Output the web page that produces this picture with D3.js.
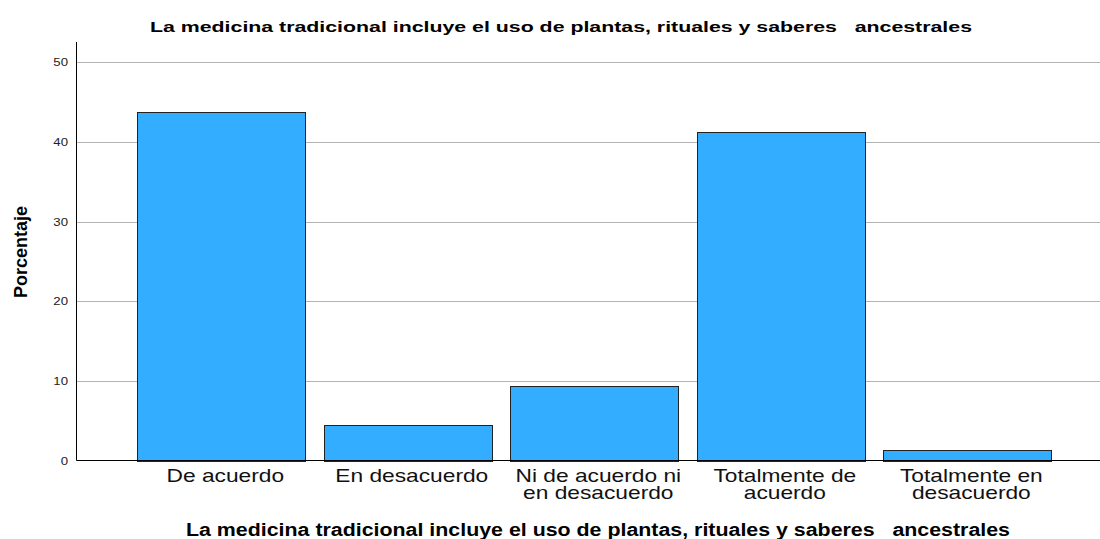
<!doctype html>
<html>
<head>
  <meta charset="utf-8" />
  <script src="https://cdn.jsdelivr.net/npm/d3@7"></script>
  <style>
  body{
    margin: 0;
    background: #fff;
    font-family: "Liberation Sans", Arial, sans-serif;
  }
  .grid line{
    stroke: #b4b4b4;
    stroke-width: 1;
  }
  .bar{
    fill: #33adff;
    stroke: #222;
    stroke-width: 1;
  }
  text{
    white-space: pre;
  }
  </style>
</head>
<body>
  <div id="viz"></div>
  <script>
  // datos
  var categories = ["De acuerdo", "En desacuerdo", "Ni de acuerdo ni en desacuerdo", "Totalmente de acuerdo", "Totalmente en desacuerdo"];
  var categoryLines = [["De acuerdo"], ["En desacuerdo"], ["Ni de acuerdo ni", "en desacuerdo"], ["Totalmente de", "acuerdo"], ["Totalmente en", "desacuerdo"]];
  var percentages = [43.7, 4.4, 9.4, 41.2, 1.3];
  var yTicks = [0, 10, 20, 30, 40, 50];
  var chartTitle = "La medicina tradicional incluye el uso de plantas, rituales y saberes   ancestrales";
  var yTitle = "Porcentaje";

  var width = 1100,
    height = 539;
  var axisX = 76.5, axisTop = 42;

  var svg = d3.select("#viz")
    .append("svg")
    .attr("width", width)
    .attr("height", height);

  var x = d3.scaleBand()
    .domain(categories)
    .range([128, 1060.6])
    .paddingInner(0.1)
    .paddingOuter(0.05);

  var y = d3.scaleLinear()
    .domain([0, 50])
    .range([460.5, 62.3]);

  // lineas de cuadricula
  svg.append("g")
    .attr("class", "grid")
    .selectAll("line")
    .data(yTicks.filter(function(d){ return d > 0; }))
    .enter().append("line")
    .attr("x1", axisX)
    .attr("x2", width)
    .attr("y1", function(d){ return Math.round(y(d)) + 0.5; })
    .attr("y2", function(d){ return Math.round(y(d)) + 0.5; });

  // barras
  svg.append("g")
    .selectAll("rect")
    .data(percentages)
    .enter().append("rect")
    .attr("class", "bar")
    .attr("x", function(d, i){ return Math.round(x(categories[i])) + 0.5; })
    .attr("width", Math.round(x.bandwidth()))
    .attr("y", function(d){ return Math.round(y(d)) + 0.5; })
    .attr("height", function(d){ return Math.round(y(0)) - Math.round(y(d)); });

  // ejes
  svg.append("line")
    .attr("x1", axisX).attr("x2", axisX)
    .attr("y1", axisTop).attr("y2", y(0))
    .attr("stroke", "#000");
  svg.append("line")
    .attr("x1", axisX).attr("x2", width)
    .attr("y1", y(0)).attr("y2", y(0))
    .attr("stroke", "#000");

  // etiquetas del eje y
  svg.append("g")
    .selectAll("text")
    .data(yTicks)
    .enter().append("text")
    .attr("transform", function(d){ return "translate(68," + (y(d) + 4) + ") scale(1.2,1)"; })
    .attr("text-anchor", "end")
    .attr("font-size", 11)
    .attr("fill", "#222")
    .text(function(d){ return d; });

  // etiquetas de categorias
  var cat = svg.append("g")
    .selectAll("text")
    .data(categoryLines)
    .enter().append("text")
    .attr("transform", function(d, i){
      return "translate(" + (x(categories[i]) + x.bandwidth() / 2 + 4) + ",482) scale(1.3,1)";
    })
    .attr("text-anchor", "middle")
    .attr("font-size", 17.5)
    .attr("fill", "#111");
  cat.selectAll("tspan")
    .data(function(d){ return d; })
    .enter().append("tspan")
    .attr("x", 0)
    .attr("y", function(d, i){ return i * 17.5; })
    .text(function(d){ return d; });

  // titulos
  svg.append("text")
    .attr("x", 150)
    .attr("y", 32)
    .attr("font-size", 15.5)
    .attr("font-weight", "bold")
    .attr("textLength", 822)
    .attr("lengthAdjust", "spacingAndGlyphs")
    .text(chartTitle);

  svg.append("text")
    .attr("x", 186)
    .attr("y", 535.5)
    .attr("font-size", 17.5)
    .attr("font-weight", "bold")
    .attr("textLength", 824)
    .attr("lengthAdjust", "spacingAndGlyphs")
    .text(chartTitle);

  svg.append("text")
    .attr("transform", "translate(27,252) rotate(-90)")
    .attr("text-anchor", "middle")
    .attr("font-size", 18)
    .attr("font-weight", "bold")
    .text(yTitle);
  </script>
</body>
</html>
